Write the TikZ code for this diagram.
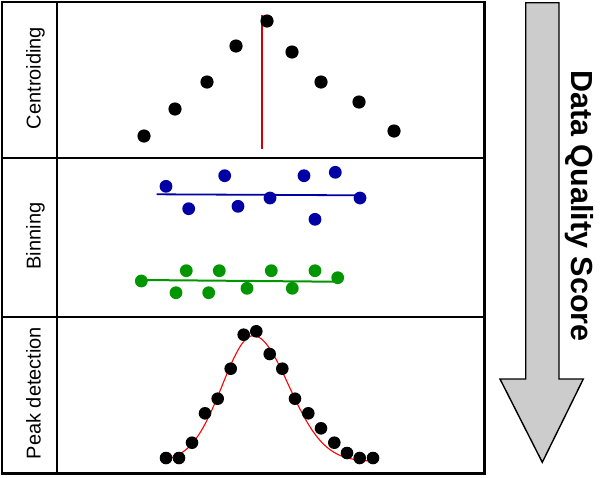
\documentclass[tikz,border=0pt]{standalone}
\usepackage{fontspec}
\setmainfont{Liberation Sans}
\definecolor{dotblue}{RGB}{0,0,165}
\definecolor{dotgreen}{RGB}{0,150,0}
\definecolor{darkred}{RGB}{210,0,0}
\definecolor{arrowgray}{RGB}{204,204,204}
\begin{document}
\begin{tikzpicture}[x=1pt,y=-1pt,
  frame/.style={line width=2.2pt,black},
  rowlabel/.style={rotate=90,anchor=base,inner sep=0pt,font=\fontsize{20}{24}\selectfont},
  blackdot/.style={fill=black},
  bluedot/.style={fill=dotblue},
  greendot/.style={fill=dotgreen}]
\useasboundingbox (0,0) rectangle (605,477);
% table
\draw[frame] (2,2) rectangle (484.5,473.5);
\draw[frame] (57,2) -- (57,473.5);
\draw[frame] (2,158) -- (484.5,158);
\draw[frame] (2,317) -- (484.5,317);
% labels
\node[rowlabel] (lc) at (40.5,78) {Centroiding};
\node[rowlabel] (lb) at (40.5,236) {Binning};
\node[rowlabel] (lp) at (40.5,393) {Peak detection};
% centroiding
\draw[darkred,line width=2pt] (262,15) -- (262,149);
\foreach \p in {(144,136),(175,109),(207,82),(236,46),(267,21),(292,52),(321,82),(359,102),(394,131)}
  \fill[blackdot] \p circle (6.6);
% binning blue
\draw[dotblue,line width=1.8pt] (156.7,194.3) -- (358,195.3);
\foreach \p in {(166,186.3),(188.7,208.7),(224.7,175.7),(238,206.3),(270,198),(304,175.7),(315,219.3),(335.3,172.3),(360,198)}
  \fill[bluedot] \p circle (6.4);
% binning green
\draw[dotgreen,line width=2pt] (141.3,280) -- (335,281.7);
\foreach \p in {(141.3,281),(176,292.7),(186.3,270.7),(208.7,292.7),(219.3,270.7),(247,288.3),(271.3,270.7),(292.3,288.3),(315,270.7),(337.7,277.7)}
  \fill[greendot] \p circle (6.4);
% peak detection
\draw[red,line width=1.1pt] plot[domain=166:253.3,samples=60,smooth] (\x,{461.5-125.8*exp(-0.5*((\x-253.3)/31)^2)})
  -- plot[domain=253.3:371.7,samples=60,smooth] (\x,{461.5-125.8*exp(-0.5*((\x-253.3)/35.3)^2)});
\foreach \p in {(166,458),(179,458),(192,442.7),(205,413.3),(217.7,398.7),(230.7,368.7),(243.7,334.7),(256.3,331.3),(269.7,354),(282.3,368.7),(295,398.7),(308.3,413.3),(321,428.3),(334.3,442.7),(347,453),(359.7,458),(373,458)}
  \fill[blackdot] \p circle (6.3);
% arrow
\draw[fill=arrowgray,line width=1.4pt,line join=miter] (525.7,2.7) -- (559,2.7) -- (559,379) -- (583.3,379) -- (542.3,462.3) -- (500,379) -- (525.7,379) -- cycle;
\node[rotate=-90,anchor=base,inner sep=0pt,font=\fontsize{30.5}{36}\selectfont\bfseries] (dqs) at (571.7,206) {Data Quality Score};
\end{tikzpicture}
\end{document}
